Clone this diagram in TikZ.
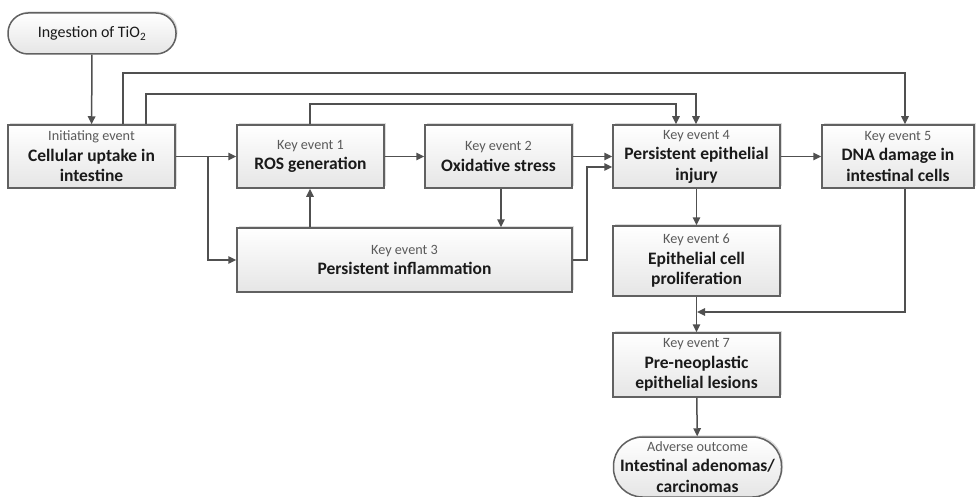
\documentclass[tikz,border=0pt]{standalone}
\usepackage{fontspec}
\setmainfont{Carlito}
\usetikzlibrary{arrows.meta,shadows}
\definecolor{linec}{HTML}{505050}
\definecolor{lblc}{HTML}{5A5A5A}
\definecolor{txtc}{HTML}{1A1A1A}
\newcommand{\lbl}[1]{{\color{lblc}\mdseries\fontsize{14.2}{16}\selectfont #1}}
\tikzset{
  evbox/.style={draw=linec!90, line width=1.5pt, top color=white, bottom color=black!10,
    drop shadow={shadow xshift=1.6pt, shadow yshift=1.6pt, fill=black!30, opacity=.45},
    inner sep=0pt, align=center, anchor=center, text=txtc,
    font=\bfseries\fontsize{17.5}{20.5}\selectfont},
  conn/.style={draw=linec, line width=1.5pt, -{Triangle[length=8pt,width=7.5pt]}},
  plain/.style={draw=linec, line width=1.5pt}
}
\begin{document}
\begin{tikzpicture}[x=1pt,y=-1pt]
\useasboundingbox (0,0) rectangle (976,497);
\node[evbox, rounded corners=20pt, minimum width=168pt, minimum height=41pt,
  font=\mdseries\fontsize{16}{19}\selectfont] (ing) at (92,33.5)
  {Ingestion of TiO\textsubscript{2}};
\node[evbox, minimum width=167pt, minimum height=63pt] (init) at (91.5,156.5)
  {\lbl{Initiating event}\\Cellular uptake in\\intestine};
\node[evbox, minimum width=147pt, minimum height=63pt] (ke1) at (310.5,156.5)
  {\lbl{Key event 1}\\ROS generation};
\node[evbox, minimum width=147pt, minimum height=63pt] (ke2) at (498.5,156.5)
  {\lbl{Key event 2}\\Oxidative stress};
\node[evbox, minimum width=335pt, minimum height=64pt] (ke3) at (404.5,260)
  {\lbl{Key event 3}\\Persistent inflammation};
\node[evbox, minimum width=167pt, minimum height=63pt] (ke4) at (696.5,156.5)
  {\lbl{Key event 4}\\Persistent epithelial\\injury};
\node[evbox, minimum width=152pt, minimum height=63pt] (ke5) at (898,156.5)
  {\lbl{Key event 5}\\DNA damage in\\intestinal cells};
\node[evbox, minimum width=167pt, minimum height=70pt] (ke6) at (696.5,261)
  {\lbl{Key event 6}\\Epithelial cell\\proliferation};
\node[evbox, minimum width=167pt, minimum height=64pt] (ke7) at (696.5,365)
  {\lbl{Key event 7}\\Pre-neoplastic\\epithelial lesions};
\node[evbox, rounded corners=29pt, minimum width=168pt, minimum height=60pt] (ao) at (697.5,467)
  {\lbl{Adverse outcome}\\Intestinal adenomas/\\carcinomas};
% connectors
\draw[conn] (ing) -- (init);
\draw[conn] (123,0 |- init.north) |- (905,73) -- (905,0 |- ke5.north);
\draw[conn] (146,0 |- init.north) |- (696,94) -- (696,0 |- ke4.north);
\draw[conn] (310,0 |- ke1.north) |- (676,104) -- (676,0 |- ke4.north);
\draw[conn] (init) -- (ke1);
\draw[conn] (208,0 |- init.east) |- (ke3.west);
\draw[conn] (ke1) -- (ke2);
\draw[conn] (ke2) -- (ke4);
\draw[conn] (501,0 |- ke2.south) -- (501,0 |- ke3.north);
\draw[conn] (310,0 |- ke3.north) -- (310,0 |- ke1.south);
\draw[conn] (ke3.east) -| (587,167) -- (ke4.west |- 0,167);
\draw[conn] (ke4) -- (ke5);
\draw[conn] (ke4) -- (ke6);
\draw[conn] (ke6) -- (ke7);
\draw[conn] (905,0 |- ke5.south) |- (697,312);
\draw[conn] (ke7) -- (ao);
\end{tikzpicture}
\end{document}
